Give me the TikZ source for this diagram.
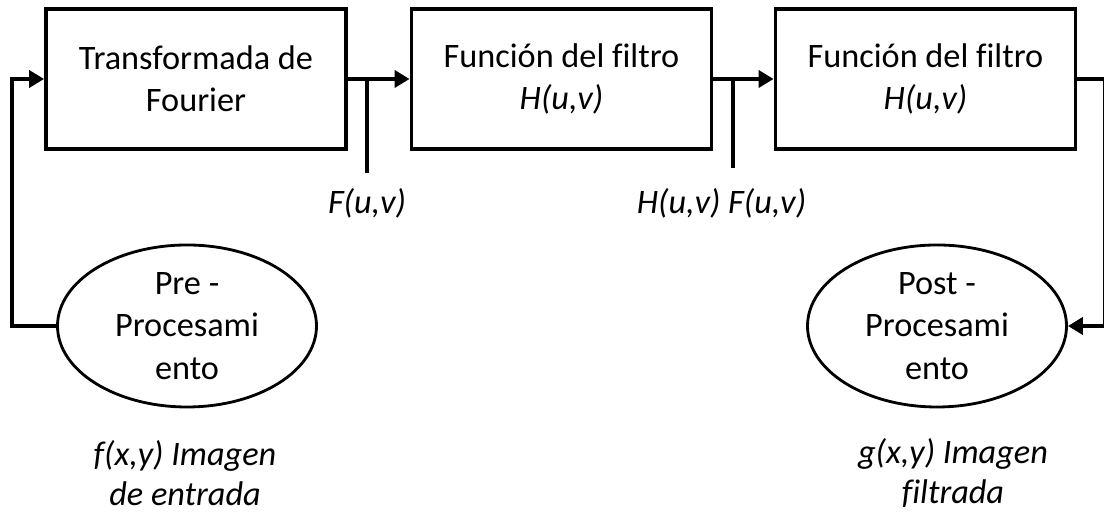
\documentclass[tikz,border=0pt]{standalone}
\usepackage{fontspec}
\setmainfont{Carlito}[Ligatures=CommonOff]
\usetikzlibrary{arrows.meta,shapes.geometric}

\begin{document}
\begin{tikzpicture}[x=1cm,y=1cm,box/.style={draw,line width=2.2pt,minimum width=6cm,minimum height=2.8cm,align=center,font=\fontsize{19.5}{24}\selectfont},oval/.style={ellipse,draw,line width=1.6pt,minimum width=5.18cm,minimum height=3.24cm,inner xsep=0pt,inner ysep=-4pt,align=center,font=\fontsize{19.5}{24}\selectfont},flow/.style={line width=2.8pt,-{Triangle[length=0.3cm,width=0.34cm]}},tap/.style={line width=2.8pt},lbl/.style={align=center,font=\fontsize{19.5}{23}\selectfont\itshape}]
\useasboundingbox (0,0) rectangle (22.08,10.26);
\node[box] (fourier) at (3.92,8.68) {Transformada de\\Fourier};
\node[box] (filtro) at (11.23,8.68) {Función del filtro\\\textit{H(u,v)}};
\node[box] (filtrob) at (18.51,8.68) {Función del filtro\\\textit{H(u,v)}};
\node[oval] (pre) at (3.74,3.74) {Pre -\\Procesami\\ento};
\node[oval] (post) at (18.74,3.74) {Post -\\Procesami\\ento};
\node[lbl] (espectro) at (7.34,6.2) {F(u,v)};
\node[lbl] (producto) at (14.43,6.2) {H(u,v) F(u,v)};
\node[lbl] (entrada) at (3.7,0.8) {f(x,y) Imagen\\de entrada};
\node[lbl] (salida) at (19.06,0.8) {g(x,y) Imagen\\filtrada};
\coordinate (izq) at (0.24,8.68);
\coordinate (der) at (22.1,8.68);
\coordinate (tapa) at (7.34,6.8);
\coordinate (tapb) at (14.66,6.9);
\draw[flow] (fourier) -- (filtro);
\draw[flow] (filtro) -- (filtrob);
\draw[tap] (tapa) -- (tapa |- fourier.east);
\draw[tap] (tapb) -- (tapb |- filtro.east);
\draw[flow] (pre.west) -| (izq) -- (fourier.west);
\draw[flow] (filtrob.east) -- (der) |- (post.east);
\end{tikzpicture}
\end{document}
